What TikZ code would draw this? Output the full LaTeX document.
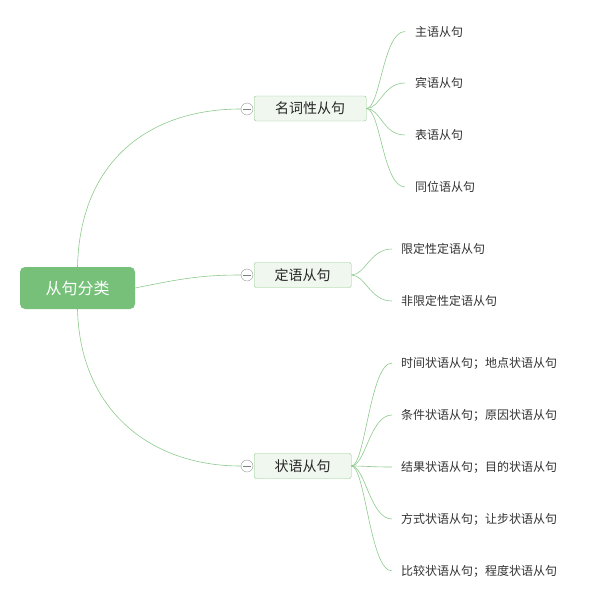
\documentclass[tikz,border=0pt]{standalone}
\usepackage{fontspec}
\setmainfont{Noto Sans CJK SC}
\usetikzlibrary{positioning}
\definecolor{rootgreen}{HTML}{77C07A}
\definecolor{linegreen}{HTML}{8DCA8D}
\definecolor{boxfill}{HTML}{EFF7EE}
\begin{document}
\begin{tikzpicture}[x=1pt,y=-1pt,
    root/.style={rectangle,rounded corners=5pt,fill=rootgreen,text=white,
      minimum width=115pt,minimum height=42pt,font=\fontsize{16}{18}\selectfont},
    branch/.style={rectangle,rounded corners=2pt,draw=linegreen,fill=boxfill,
      minimum height=25pt,anchor=west,text=black!85,font=\fontsize{14}{16}\selectfont},
    fold/.style={circle,draw=gray!80,fill=white,minimum size=12pt,inner sep=0pt},
    leaf/.style={anchor=west,inner xsep=9pt,inner ysep=2pt,text=black!80,
      font=\fontsize{12}{14}\selectfont},
    link/.style={draw=linegreen,line width=0.6pt}]
  \useasboundingbox (0,0) rectangle (589,603);

  % Root
  \node[root] (root) at (77.5,288) {从句分类};

  % Branches
  \node[branch,minimum width=112pt] (noun) at (254,108.5) {名词性从句};
  \node[branch,minimum width=97pt] (attr) at (254,275) {定语从句};
  \node[branch,minimum width=97pt] (adv) at (254,466) {状语从句};

  % Fold markers
  \node[fold] (fnoun) at (247,109) {};
  \node[fold] (fattr) at (247,275) {};
  \node[fold] (fadv) at (247,466) {};
  \foreach \f in {fnoun,fattr,fadv}
    \draw[gray] ([xshift=2.5pt]\f.west) -- ([xshift=-2.5pt]\f.east);

  % Root to branches
  \draw[link] (root.north) .. controls (80,160) and (150,109) .. (fnoun.west);
  \draw[link] (root.east) .. controls (180,279) and (200,275) .. (fattr.west);
  \draw[link] (root.south) .. controls (80,410) and (150,466) .. (fadv.west);

  % Leaves of noun clauses
  \node[leaf,inner xsep=10pt] (n1) at (405,31.5) {主语从句};
  \node[leaf,inner xsep=10pt] (n2) at (405,83) {宾语从句};
  \node[leaf,inner xsep=10pt] (n3) at (405,135) {表语从句};
  \node[leaf,inner xsep=10pt] (n4) at (405,187) {同位语从句};
  \foreach \l in {n1,n2,n3,n4}
    \draw[link] (noun.east) .. controls +(14,0) and +(-22,0) .. (\l.west);

  % Leaves of attributive clauses
  \node[leaf] (a1) at (392,249) {限定性定语从句};
  \node[leaf] (a2) at (392,301) {非限定性定语从句};
  \foreach \l in {a1,a2}
    \draw[link] (attr.east) .. controls +(14,0) and +(-22,0) .. (\l.west);

  % Leaves of adverbial clauses
  \node[leaf] (d1) at (392,363) {时间状语从句；地点状语从句};
  \node[leaf] (d2) at (392,415) {条件状语从句；原因状语从句};
  \node[leaf] (d3) at (392,467) {结果状语从句；目的状语从句};
  \node[leaf] (d4) at (392,519) {方式状语从句；让步状语从句};
  \node[leaf] (d5) at (392,571) {比较状语从句；程度状语从句};
  \foreach \l in {d1,d2,d3,d4,d5}
    \draw[link] (adv.east) .. controls +(14,0) and +(-22,0) .. (\l.west);
\end{tikzpicture}
\end{document}
